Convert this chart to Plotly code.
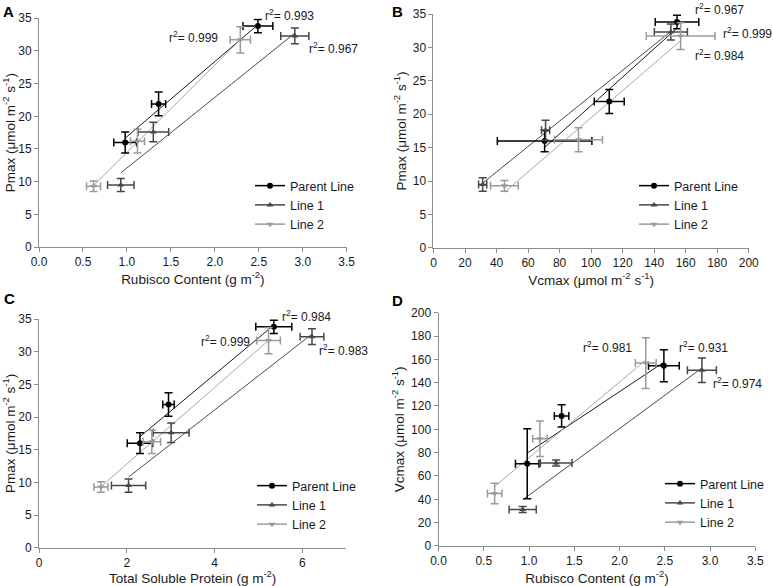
import numpy as np
import plotly.graph_objects as go

# ---------------- data ----------------
series_names = ["Parent Line", "Line 1", "Line 2"]

pmax_parent = [16.0, 21.9, 33.8]
pmax_parent_err = [1.6, 1.8, 1.0]
pmax_line1 = [9.5, 17.6, 32.3]
pmax_line1_err = [1.0, 1.5, 1.2]
pmax_line2 = [9.3, 16.2, 31.7]
pmax_line2_err = [0.8, 1.8, 2.0]

rubisco_parent = [0.98, 1.36, 2.49]
rubisco_parent_err = [0.13, 0.08, 0.17]
rubisco_line1 = [0.93, 1.30, 2.91]
rubisco_line1_err = [0.15, 0.175, 0.16]
rubisco_line2 = [0.62, 1.12, 2.29]
rubisco_line2_err = [0.08, 0.08, 0.115]

vcmax_parent = [70.5, 111.5, 154.5]
vcmax_parent_err = [30.0, 9.5, 13.8]
vcmax_line1 = [31.2, 71.1, 150.6]
vcmax_line1_err = [2.6, 2.6, 10.5]
vcmax_line2 = [45.0, 92.0, 156.8]
vcmax_line2_err = [8.8, 15.2, 21.8]

tsp_parent = [2.30, 2.95, 5.35]
tsp_parent_err = [0.29, 0.13, 0.41]
tsp_line1 = [2.04, 3.01, 6.22]
tsp_line1_err = [0.39, 0.41, 0.27]
tsp_line2 = [1.41, 2.57, 5.23]
tsp_line2_err = [0.16, 0.20, 0.27]

r2_a = ["0.993", "0.999", "0.967"]
r2_b = ["0.967", "0.999", "0.984"]
r2_c = ["0.984", "0.999", "0.983"]
r2_d = ["0.981", "0.931", "0.974"]

# ---------------- style ----------------
FONT = "Arial, 'Liberation Sans', Helvetica, sans-serif"
TEXT = "#1a1a1a"
AXIS = "#8c8c8c"
colors = ["#000000", "#474747", "#9a9a9a"]
fit_colors = ["#1a1a1a", "#4a4a4a", "#a8a8a8"]
symbols = ["circle", "triangle-up", "triangle-down"]

panels = [
    dict(letter="A", xs=[rubisco_parent, rubisco_line1, rubisco_line2],
         xes=[rubisco_parent_err, rubisco_line1_err, rubisco_line2_err],
         ys=[pmax_parent, pmax_line1, pmax_line2],
         yes=[pmax_parent_err, pmax_line1_err, pmax_line2_err],
         r2=r2_a, r2pos=[(2.55, 35.5), (1.46, 32.2), (3.05, 30.4)],
         xdom=[0.0505, 0.4485], ydom=[0.5785, 0.9688],
         xrange=[0, 3.5], yrange=[0, 35], dx=0.5, dy=5, xfmt=".1f",
         xtitle="Rubisco Content (g m<sup>-2</sup>)",
         ytitle="Pmax (\u03bcmol m<sup>-2</sup> s<sup>-1</sup>)",
         letterpos=(8.5, 12), legpos=(250, 171)),
    dict(letter="B", xs=[vcmax_parent, vcmax_line1, vcmax_line2],
         xes=[vcmax_parent_err, vcmax_line1_err, vcmax_line2_err],
         ys=[pmax_parent, pmax_line1, pmax_line2],
         yes=[pmax_parent_err, pmax_line1_err, pmax_line2_err],
         r2=r2_b, r2pos=[(164.5, 35.8), (182.4, 32.2), (164.5, 28.8)],
         xdom=[0.5608, 0.9686], ydom=[0.5768, 0.9761],
         xrange=[0, 200], yrange=[0, 35], dx=20, dy=5, xfmt="",
         xtitle="Vcmax (\u03bcmol m<sup>-2</sup> s<sup>-1</sup>)",
         ytitle="Pmax (\u03bcmol m<sup>-2</sup> s<sup>-1</sup>)",
         letterpos=(397.5, 11.7), legpos=(634, 171)),
    dict(letter="C", xs=[tsp_parent, tsp_line1, tsp_line2],
         xes=[tsp_parent_err, tsp_line1_err, tsp_line2_err],
         ys=[pmax_parent, pmax_line1, pmax_line2],
         yes=[pmax_parent_err, pmax_line1_err, pmax_line2_err],
         r2=r2_c, r2pos=[(5.49, 35.4), (3.64, 31.7), (6.34, 30.3)],
         xdom=[0.0505, 0.4479], ydom=[0.0654, 0.4556],
         xrange=[0, 7], yrange=[0, 35], dx=2, dy=5, xfmt="",
         xtitle="Total Soluble Protein (g m<sup>-2</sup>)",
         ytitle="Pmax (\u03bcmol m<sup>-2</sup> s<sup>-1</sup>)",
         letterpos=(9, 298), legpos=(252, 471)),
    dict(letter="D", xs=[rubisco_parent, rubisco_line1, rubisco_line2],
         xes=[rubisco_parent_err, rubisco_line1_err, rubisco_line2_err],
         ys=[vcmax_parent, vcmax_line1, vcmax_line2],
         yes=[vcmax_parent_err, vcmax_line1_err, vcmax_line2_err],
         r2=r2_d, r2pos=[(1.575, 170.3), (2.64, 170.3), (3.01, 140)],
         xdom=[0.5673, 0.9771], ydom=[0.0683, 0.4664],
         xrange=[0, 3.5], yrange=[0, 200], dx=0.5, dy=20, xfmt=".1f",
         xtitle="Rubisco Content (g m<sup>-2</sup>)",
         ytitle="Vcmax (\u03bcmol m<sup>-2</sup> s<sup>-1</sup>)",
         letterpos=(397.5, 300.5), legpos=(660, 469)),
]

W, H = 773, 586
fig = go.Figure()
annotations = []
layout = {}

for i, p in enumerate(panels):
    n = "" if i == 0 else str(i + 1)
    xa, ya = "x" + n, "y" + n
    leg = "legend" + n
    for s in range(3):
        x = np.array(p["xs"][s], dtype=float)
        y = np.array(p["ys"][s], dtype=float)
        k, b = np.polyfit(x, y, 1)
        xf = np.array([x.min(), x.max()])
        fig.add_trace(go.Scatter(
            x=xf, y=k * xf + b, mode="lines", xaxis=xa, yaxis=ya,
            line=dict(color=fit_colors[s], width=1), showlegend=False,
            hoverinfo="skip"))
    for s in range(3):
        fig.add_trace(go.Scatter(
            x=p["xs"][s], y=p["ys"][s], mode="markers", xaxis=xa, yaxis=ya,
            marker=dict(symbol=symbols[s], size=6, color=colors[s]),
            error_x=dict(type="data", array=p["xes"][s], color=colors[s],
                         thickness=1.5, width=4),
            error_y=dict(type="data", array=p["yes"][s], color=colors[s],
                         thickness=1.5, width=4),
            showlegend=False, name=series_names[s]))
    for s in range(3):
        fig.add_trace(go.Scatter(
            x=[None], y=[None], mode="lines+markers", xaxis=xa, yaxis=ya,
            name=series_names[s], legend=leg,
            marker=dict(symbol=symbols[s], size=6, color=colors[s]),
            line=dict(color=colors[s], width=1.5)))
    axis_common = dict(showline=True, linecolor=AXIS, linewidth=1,
                       ticks="outside", ticklen=4, tickcolor=AXIS,
                       showgrid=False, zeroline=False, automargin=False,
                       tickfont=dict(size=12, color=TEXT, family=FONT))
    layout["xaxis" + n] = dict(
        axis_common, domain=p["xdom"], range=p["xrange"], dtick=p["dx"],
        tick0=0, tickformat=p["xfmt"], anchor=ya,
        title=dict(text=p["xtitle"], font=dict(size=13.5, color=TEXT, family=FONT),
                   standoff=2))
    layout["yaxis" + n] = dict(
        axis_common, domain=p["ydom"], range=p["yrange"], dtick=p["dy"],
        tick0=0, anchor=xa,
        title=dict(text=p["ytitle"], font=dict(size=13.5, color=TEXT, family=FONT),
                   standoff=3))
    layout[leg] = dict(x=p["legpos"][0] / W, y=1 - p["legpos"][1] / H,
                       xanchor="left", yanchor="top", bgcolor="rgba(0,0,0,0)",
                       font=dict(size=12.5, color=TEXT, family=FONT),
                       itemwidth=30, tracegroupgap=0)
    ytop = p["yrange"][1]
    for t, (ax_, ay_) in zip(p["r2"], p["r2pos"]):
        annotations.append(dict(
            x=ax_, y=ay_ / ytop, xref=xa, yref=ya + " domain",
            text="r<sup>2</sup>= " + t,
            showarrow=False, xanchor="left", yanchor="middle",
            font=dict(size=12, color=TEXT, family=FONT)))
    annotations.append(dict(
        x=p["letterpos"][0] / W, y=1 - p["letterpos"][1] / H, xref="paper",
        yref="paper", text="<b>" + p["letter"] + "</b>", showarrow=False,
        xanchor="center", yanchor="middle",
        font=dict(size=15, color="#000000", family=FONT)))

fig.update_layout(
    width=W, height=H, margin=dict(l=0, r=0, t=0, b=0),
    paper_bgcolor="white", plot_bgcolor="white",
    font=dict(family=FONT, color=TEXT), annotations=annotations,
    showlegend=True, **layout)

fig.write_html(
    "out.html",
    config={"displayModeBar": False},
    post_script="document.body.style.margin='0px';"
                "document.body.style.overflow='hidden';")
